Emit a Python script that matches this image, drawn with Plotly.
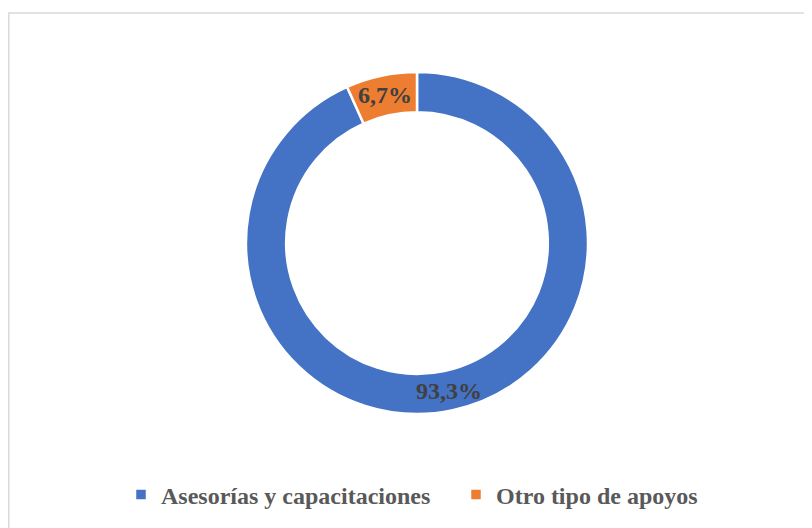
import math
import plotly.graph_objects as go

labels = ["Asesorías y capacitaciones", "Otro tipo de apoyos"]
values = [93.3, 6.7]
text_labels = ["93,3%", "6,7%"]
colors = ["#4472C4", "#ED7D31"]

# the page body adds an 8px margin, so the figure is sized to the visible area
W, H = 804, 520
cx, cy, r = 409, 235, 171
hole = 0.765

fig = go.Figure()
fig.add_trace(
    go.Pie(
        labels=labels,
        values=values,
        textinfo="none",
        hole=hole,
        sort=False,
        direction="clockwise",
        rotation=0,
        marker=dict(colors=colors, line=dict(color="white", width=2.5)),
        hoverinfo="label+percent",
        domain=dict(
            x=[(cx - r) / W, (cx + r) / W],
            y=[1 - (cy + r) / H, 1 - (cy - r) / H],
        ),
    )
)

# data labels centred in the ring, at each slice's mid angle
total = sum(values)
rm = r * (1 + hole) / 2
annotations = []
cum = 0
for v, t in zip(values, text_labels):
    theta = 2 * math.pi * (cum + v / 2) / total
    cum += v
    px = cx + rm * math.sin(theta)
    py = cy - rm * math.cos(theta)
    annotations.append(
        dict(
            x=px / W,
            y=1 - py / H,
            xref="paper",
            yref="paper",
            text=t,
            showarrow=False,
            xanchor="center",
            yanchor="middle",
            font=dict(family="Liberation Serif", size=24, color="#404040", weight="bold"),
        )
    )

fig.update_layout(
    width=W,
    height=H,
    margin=dict(l=0, r=0, t=0, b=0),
    paper_bgcolor="white",
    plot_bgcolor="white",
    showlegend=True,
    annotations=annotations,
    legend=dict(
        orientation="h",
        x=0.5 + 46 / W,
        xanchor="center",
        y=1 - 487 / H,
        yanchor="middle",
        font=dict(family="Liberation Serif", size=24, color="#595959", weight="bold"),
        entrywidth=290,
        entrywidthmode="pixels",
    ),
    shapes=[
        dict(
            type="rect",
            xref="paper",
            yref="paper",
            x0=0.8 / W,
            y0=-0.05,
            x1=1.05,
            y1=1 - 5 / H,
            line=dict(color="#D9D9D9", width=1.5),
            fillcolor="rgba(0,0,0,0)",
        )
    ],
)

fig.write_html("out.html")
